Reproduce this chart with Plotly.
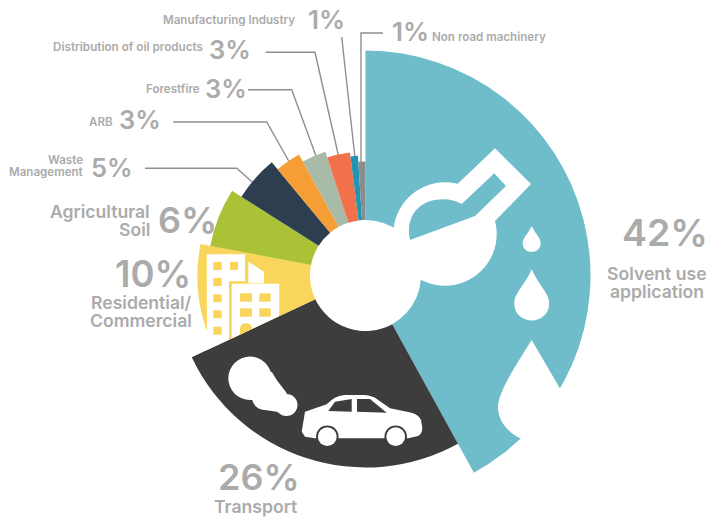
import numpy as np
import plotly.graph_objects as go

W, H = 723, 517
CX, CY = 365.5, 275.5
R_MAX = 230
HOLE = 55.5

categories = ["Solvent use application", "Transport", "Residential/Commercial", "Agricultural Soil",
              "Waste Management", "ARB", "Forestfire", "Distribution of oil products",
              "Manufacturing Industry", "Non road machinery"]
shares = [42, 26, 10, 6, 5, 3, 3, 3, 1, 1]
outer_radius = [225, 192, 168, 158, 147, 138, 130, 124, 120, 114]
colors = ["#6fbdcb", "#3d3d3d", "#fad55c", "#abc236", "#2c3e50",
          "#f59e35", "#a8baa8", "#f3714a", "#2196b2", "#8c8c8c"]

GREY = "#ababab"
LINE = "#8f8f8f"
TEAL, DARK, YELLOW = colors[0], colors[1], colors[2]

sweep = np.array(shares) * 3.6
theta = np.cumsum(sweep) - sweep / 2


def px(x, y):
    return f"{x / W:.5f},{1 - y / H:.5f}"


def poly(points, fill, close=True):
    d = "M " + " L ".join(px(*p) for p in points) + (" Z" if close else "")
    return dict(type="path", xref="paper", yref="paper", path=d, layer="above",
                fillcolor=fill, line=dict(width=0))


def circle(x, y, r, fill):
    return dict(type="circle", xref="paper", yref="paper", layer="above",
                x0=(x - r) / W, x1=(x + r) / W, y0=1 - (y + r) / H, y1=1 - (y - r) / H,
                fillcolor=fill, line=dict(width=0))


def curve(d, fill):
    # path written as [command, (x, y), ...] in page pixels
    parts = []
    for item in d:
        parts.append(item if isinstance(item, str) else px(*item))
    return dict(type="path", xref="paper", yref="paper", path=" ".join(parts), layer="above",
                fillcolor=fill, line=dict(width=0))


def drop(x, tip, cy, r):
    return curve(["M", (x, tip),
                  "C", (x + r * 0.35, cy - r * 1.1), (x + r, cy - r * 0.55), (x + r, cy),
                  "C", (x + r, cy + r * 1.33), (x - r, cy + r * 1.33), (x - r, cy),
                  "C", (x - r, cy - r * 0.55), (x - r * 0.35, cy - r * 1.1), (x, tip), "Z"], "white")


def leader(points):
    d = "M " + " L ".join(px(*p) for p in points)
    return dict(type="path", xref="paper", yref="paper", path=d, layer="below",
                line=dict(color=LINE, width=1.4))


shapes = []

# leader lines from the narrow sectors to their labels
shapes += [
    leader([(383, 33), (361, 33), (361, 165)]),
    leader([(341.7, 37), (355, 158)]),
    leader([(265.7, 52.3), (315, 52.3), (338.3, 155)]),
    leader([(248, 89.7), (291.7, 89.7), (316, 156)]),
    leader([(173.3, 122), (266.7, 122), (289.3, 162)]),
    leader([(145, 168.3), (236.7, 168.3), (253.3, 183)]),
]

# flask
shapes += [
    circle(445, 234, 51.7, "white"),
    poly([(458.3, 183.3), (495, 148.3), (531, 184), (496, 220), (470, 240), (440, 215)], "white"),
    curve(["M", (410, 240), "C", (405, 215), (420, 199.3), (443.3, 199.3),
           "Q", (454, 199.3), (461.7, 204), "L", (494.3, 173.3), "L", (506, 186),
           "L", (475, 216), "Z"], TEAL),
]

# drops
shapes += [
    drop(531.7, 226, 243, 9),
    drop(531.7, 269.3, 303, 17.5),
    curve(["M", (531.7, 340), "L", (562, 392), "L", (556, 404), "L", (522, 439),
           "C", (508, 433), (498, 421), (498, 407),
           "C", (498, 392), (518, 362), (531.7, 340), "Z"], "white"),
]

# buildings, with their lower ends cut along the edge of the transport sector
shapes += [
    poly([(206.7, 254.3), (245, 254.3), (245, 332), (207, 350)], "white"),
    poly([(248.3, 261.7), (264, 271.7), (264, 283.3), (248.3, 283.3)], "white"),
    poly([(229, 281.3), (245, 281.3), (245, 332), (229, 339.8)], YELLOW),
    poly([(231.7, 283.7), (279.3, 283.7), (279.3, 316), (231.7, 338.5)], "white"),
]
window_rows_a = [262, 278, 294.3, 310.3, 326.7]
for y in window_rows_a:
    shapes.append(poly([(213.3, y), (221.7, y), (221.7, y + 8), (213.3, y + 8)], YELLOW))
shapes.append(poly([(230, 262), (238, 262), (238, 270), (230, 270)], YELLOW))
for y in (293.3, 308.3):
    for x0, x1 in ((240, 252), (259.3, 270.7)):
        shapes.append(poly([(x0, y), (x1, y), (x1, y + 8.4), (x0, y + 8.4)], YELLOW))
shapes.append(curve(["M", (240, 334.6), "L", (240, 329), "Q", (240, 323.3), (246, 323.3),
                     "Q", (252, 323.3), (252, 328.9), "Z"], YELLOW))

# exhaust cloud
shapes += [
    circle(250, 378.3, 21.7, "white"),
    circle(265, 397, 13, "white"),
    circle(286.5, 405, 11, "white"),
    poly([(271.7, 371.7), (276.7, 380), (286.7, 393), (286.7, 416), (276.7, 411.7),
          (265, 410), (253.3, 400), (235, 393.3)], "white"),
]

# car
shapes += [
    curve(["M", (305, 436.7), "L", (301.7, 431.7), "L", (305, 411.7), "L", (326.7, 404.3),
           "Q", (335, 395.5), (345, 395), "L", (365, 395), "Q", (372, 396), (375, 397.7),
           "L", (390, 408.3), "L", (411.7, 412.7), "Q", (419, 415), (421, 420),
           "L", (422.3, 428.3), "Q", (422, 434), (418, 436), "L", (408.3, 438.3),
           "L", (315, 438.3), "Z"], "white"),
    poly([(328.3, 411), (335, 401.7), (351.7, 399), (351.7, 411.7)], DARK),
    poly([(357, 399), (370, 399), (386.7, 412.7), (357, 411.7)], DARK),
    circle(327.3, 436.7, 11.3, DARK),
    circle(395.7, 436.7, 11.3, DARK),
    circle(327.3, 436.7, 9.4, "white"),
    circle(395.7, 436.7, 9.4, "white"),
]


def text(x, y, s, size, anchor="left", weight=600):
    return dict(xref="paper", yref="paper", x=x / W, y=1 - y / H, text=s, showarrow=False,
                xanchor=anchor, yanchor="middle", align=anchor, borderpad=0,
                font=dict(family="Inter", size=size, color=GREY, weight=weight))


annotations = [
    text(296, 20, "Manufacturing Industry", 11.6, "right"),
    text(307, 20, "1%", 26),
    text(204, 47, "Distribution of oil products", 11.7, "right"),
    text(208, 49, "3%", 25.5),
    text(201, 89, "Forestfire", 11.6, "right"),
    text(204, 89, "3%", 25.5),
    text(114, 122, "ARB", 11.6, "right"),
    text(118, 120, "3%", 25.5),
    text(84, 160, "Waste", 11.6, "right"),
    text(84, 172, "Management", 11.6, "right"),
    text(90, 167, "5%", 25.5),
    text(151, 211, "Agricultural", 17.6, "right"),
    text(151, 229, "Soil", 17.6, "right"),
    text(157, 220, "6%", 36),
    text(192, 274, "10%", 36.5, "right"),
    text(193, 302, "Residential/", 17.6, "right"),
    text(193, 320, "Commercial", 17.6, "right"),
    text(259, 477, "26%", 36, "center"),
    text(255.5, 506, "Transport", 17.6, "center"),
    text(665, 233, "42%", 37.5, "center"),
    text(657, 273, "Solvent use", 17.6, "center"),
    text(657, 291, "application", 17.6, "center"),
    text(391, 31, "1%", 26),
    text(431, 37, "Non road machinery", 11.6),
]

fig = go.Figure(go.Barpolar(
    r=np.array(outer_radius) - HOLE,
    base=HOLE,
    theta=theta,
    width=sweep,
    text=categories,
    hoverinfo="text",
    marker=dict(color=colors, line=dict(width=0)),
))

fig.update_layout(
    width=W, height=H,
    margin=dict(l=0, r=0, t=0, b=0),
    paper_bgcolor="white",
    showlegend=False,
    polar=dict(
        domain=dict(x=[(CX - R_MAX) / W, (CX + R_MAX) / W],
                    y=[1 - (CY + R_MAX) / H, 1 - (CY - R_MAX) / H]),
        bgcolor="rgba(0,0,0,0)",
        radialaxis=dict(visible=False, range=[0, R_MAX]),
        angularaxis=dict(visible=False, direction="clockwise", rotation=90),
    ),
    shapes=shapes,
    annotations=annotations,
)

fig.write_html("out.html", config=dict(displayModeBar=False))
